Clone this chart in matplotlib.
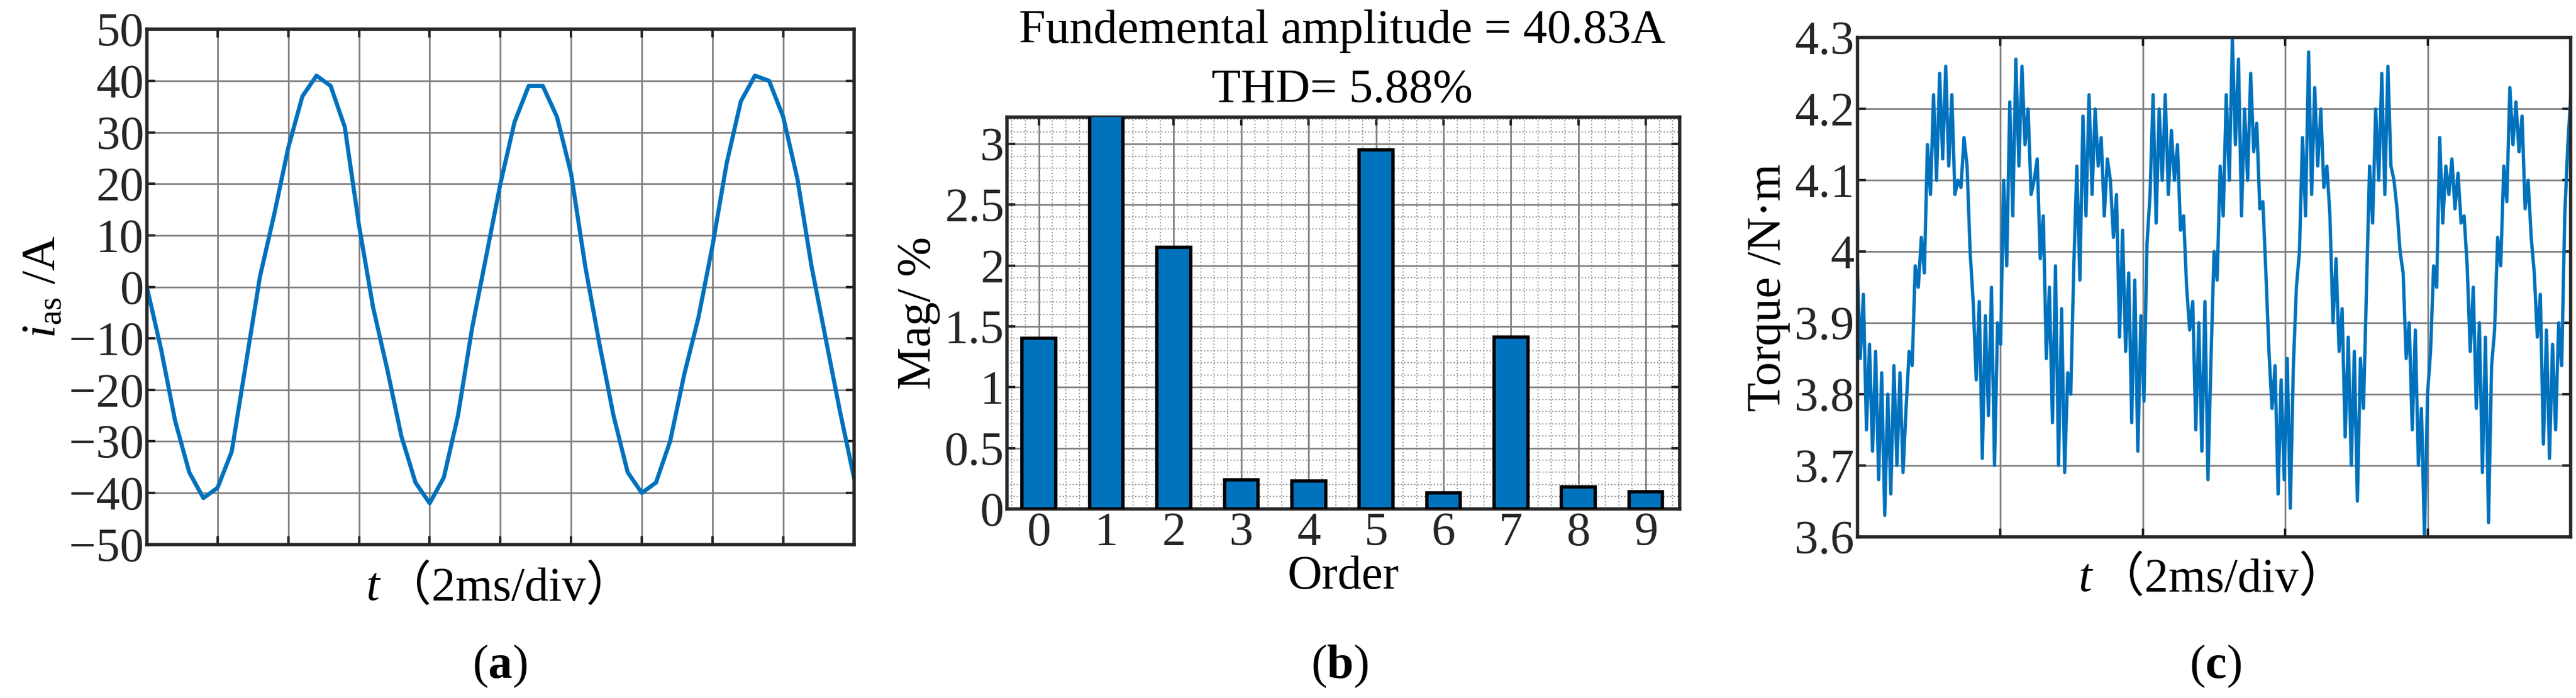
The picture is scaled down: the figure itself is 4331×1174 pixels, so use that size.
import numpy as np
import matplotlib
matplotlib.use("Agg")
import matplotlib.pyplot as plt
from matplotlib.ticker import MultipleLocator

plt.rcParams['font.family'] = ['Liberation Serif', 'Noto Sans CJK SC']
plt.rcParams['mathtext.fontset'] = 'custom'
plt.rcParams['mathtext.rm'] = 'Liberation Serif'
plt.rcParams['mathtext.it'] = 'Liberation Serif:italic'
plt.rcParams['mathtext.bf'] = 'Liberation Serif:bold'

BLUE = '#0072BD'
FS = 58

# (a) phase current, sampled every 0.2 div
current_t = np.arange(0, 10.01, 0.2)
current_i = [0, -12, -26, -36, -41, -39, -32, -15, 2, 14, 27, 37, 41, 39, 31, 12, -4, -16, -29, -38,
             -42, -37, -25, -8, 6, 20, 32, 39, 39, 33, 22, 4, -11, -25, -36, -40, -38, -30, -17, -6,
             8, 24, 36, 41, 40, 33, 21, 4, -10, -24, -37]

# (b) harmonic spectrum
orders = [0, 1, 2, 3, 4, 5, 6, 7, 8, 9]
mags = [1.4, 3.3, 2.15, 0.24, 0.23, 2.95, 0.13, 1.41, 0.18, 0.14]

# (c) torque
torque = (
    [3.98, 3.85, 3.94, 3.75, 3.87, 3.72, 3.86, 3.68, 3.83, 3.63]
    + [3.80, 3.66, 3.84, 3.70, 3.83, 3.69, 3.78, 3.86, 3.84, 3.98, 3.95, 4.02, 3.97, 4.15, 4.08, 4.22, 4.10, 4.25, 4.13, 4.26, 4.12, 4.22, 4.08, 4.10, 4.09, 4.16, 4.12, 4.00, 3.93]
    + [3.82, 3.93, 3.71, 3.91, 3.77, 3.95, 3.70, 3.90, 3.87, 4.10, 3.98, 4.21, 4.05, 4.27, 4.12, 4.26, 4.15, 4.20, 4.08, 4.10, 4.13, 3.99, 4.05]
    + [3.85, 3.95, 3.76, 3.98, 3.70, 3.92, 3.69, 3.83, 3.80, 3.98, 4.12, 3.96, 4.19, 4.05, 4.22, 4.08, 4.20, 4.12, 4.16, 4.05, 4.13, 4.10, 4.02, 4.08]
    + [3.88, 4.03, 3.86, 3.97, 3.76, 3.96, 3.72, 3.91, 3.79, 4.01, 4.08, 4.22, 4.04, 4.20, 4.10, 4.22, 4.08, 4.17, 4.10, 4.15, 4.03, 4.05]
    + [3.95, 3.89, 3.93, 3.75, 3.90, 3.72, 3.93, 3.68, 3.85, 4.00, 3.96, 4.12, 4.05, 4.22, 4.10, 4.30, 4.15, 4.27, 4.05, 4.20, 4.10, 4.25, 4.14, 4.18, 4.06, 4.07]
    + [3.97, 3.86, 3.78, 3.84, 3.66, 3.82, 3.68, 3.85, 3.64, 3.84, 3.95, 4.00, 4.16, 4.05, 4.28, 4.08, 4.23, 4.12, 4.20, 4.09, 4.12, 4.05]
    + [3.90, 3.99, 3.86, 3.92, 3.74, 3.88, 3.70, 3.86, 3.65, 3.85, 3.78, 3.95, 4.12, 4.04, 4.20, 4.10, 4.25, 4.08, 4.26, 4.12, 4.10, 4.06, 4.00]
    + [3.97, 3.85, 3.90, 3.75, 3.89, 3.70, 3.78, 3.60, 3.80, 3.86, 3.98, 3.95, 4.16, 4.04, 4.12, 4.08, 4.13, 4.06, 4.11, 4.04, 4.05]
    + [3.98, 3.86, 3.95, 3.78, 3.90, 3.69, 3.88, 3.62, 3.84, 3.89, 4.02, 3.98, 4.12, 4.07, 4.23, 4.15, 4.21, 4.14, 4.19, 4.06, 4.10, 4.02]
    + [3.97, 3.88, 3.94, 3.73, 3.89, 3.71, 3.87, 3.75, 3.90, 3.84, 4.05, 4.15, 4.22]
)
torque_t = np.linspace(0, 5, len(torque))

fig = plt.figure(figsize=(43.31, 11.74), dpi=100)

def style(ax):
    for s in ax.spines.values():
        s.set_linewidth(4)
        s.set_color('#262626')
    ax.tick_params(labelsize=FS, width=3, length=10, direction='in', top=True, right=True, colors='#262626')
    ax.grid(True, color='#808080', lw=2)
    ax.set_axisbelow(True)

def tlabel(ax):
    ax.text(0.31, -0.085, 't', style='italic', fontsize=FS, transform=ax.transAxes, ha='left', va='center')
    ax.text(0.335, -0.085, '（2ms/div）', fontsize=FS, transform=ax.transAxes, ha='left', va='center')

# (a)
ax1 = fig.add_axes([0.057, 0.22, 0.2745, 0.738])
ax1.plot(current_t, current_i, color=BLUE, lw=5)
ax1.set_xlim(0, 10)
ax1.set_ylim(-50, 50)
ax1.set_yticks(range(-50, 51, 10))
ax1.set_yticklabels([str(v).replace('-', '\u2212') for v in range(-50, 51, 10)])
ax1.set_xticks(range(1, 10))
ax1.set_xticklabels([])
style(ax1)
ax1.set_ylabel(r'$i_{\rm as}$ /A', fontsize=FS, labelpad=5)
tlabel(ax1)
fig.text(0.194, 0.045, r'($\mathbf{a}$)', fontsize=FS, ha='center', va='center')

# (b)
ax2 = fig.add_axes([0.391, 0.271, 0.261, 0.561])
ax2.bar(orders, mags, width=0.5, color=BLUE, edgecolor='black', lw=4, zorder=3)
ax2.set_xlim(-0.47, 9.5)
ax2.set_ylim(0, 3.22)
ax2.set_xticks(orders)
ax2.set_yticks([0, 0.5, 1, 1.5, 2, 2.5, 3])
ax2.set_yticklabels(['0', '0.5', '1', '1.5', '2', '2.5', '3'])
ax2.yaxis.set_minor_locator(MultipleLocator(0.1))
ax2.xaxis.set_minor_locator(MultipleLocator(0.2))
style(ax2)
ax2.tick_params(which='minor', length=0)
ax2.grid(True, which='minor', color='#999999', lw=1.5, ls=':')
ax2.set_ylabel('Mag/ %', fontsize=FS, labelpad=5)
ax2.set_xlabel('Order', fontsize=FS, labelpad=0)
fig.text(0.521, 0.955, 'Fundemental amplitude = 40.83A', fontsize=FS, ha='center', va='center')
fig.text(0.521, 0.87, 'THD= 5.88%', fontsize=FS, ha='center', va='center')
fig.text(0.52, 0.045, r'($\mathbf{b}$)', fontsize=FS, ha='center', va='center')

# (c)
ax3 = fig.add_axes([0.721, 0.231, 0.277, 0.715])
ax3.plot(torque_t, torque, color=BLUE, lw=4)
ax3.set_xlim(0, 5)
ax3.set_ylim(3.6, 4.3)
ax3.set_yticks([3.6, 3.7, 3.8, 3.9, 4.0, 4.1, 4.2, 4.3])
ax3.set_yticklabels(['3.6', '3.7', '3.8', '3.9', '4', '4.1', '4.2', '4.3'])
ax3.set_xticks([1, 2, 3, 4])
ax3.set_xticklabels([])
style(ax3)
ax3.set_ylabel('Torque /N·m', fontsize=FS, labelpad=5)
tlabel(ax3)
fig.text(0.86, 0.045, r'($\mathbf{c}$)', fontsize=FS, ha='center', va='center')

fig.savefig('out.png', dpi=100)
